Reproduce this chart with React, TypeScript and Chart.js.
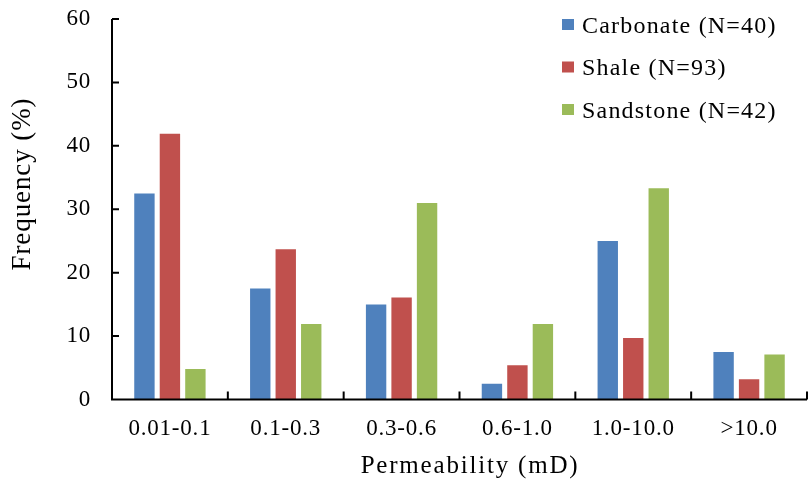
import { useEffect, useRef } from "react";
import { Chart, registerables } from "chart.js";

Chart.register(...registerables);

// Permeability bins and the share of samples (%) falling in each bin
const categories = ["0.01-0.1", "0.1-0.3", "0.3-0.6", "0.6-1.0", "1.0-10.0", ">10.0"];
const carbonate = [32.5, 17.5, 15.0, 2.5, 25.0, 7.5];
const shale = [41.9, 23.7, 16.1, 5.4, 9.7, 3.2];
const sandstone = [4.8, 11.9, 31.0, 11.9, 33.3, 7.1];

const seriesLabels = ["Carbonate (N=40)", "Shale (N=93)", "Sandstone (N=42)"];
const seriesColors = ["#4F81BD", "#C0504D", "#9BBB59"];

const yMin = 0;
const yMax = 60;
const yStep = 10;

const xTitle = "Permeability (mD)";
const yTitle = "Frequency (%)";

const FONT = "'Liberation Serif', 'Times New Roman', serif";

// Axis lines with inward ticks, the legend box and both axis titles
const framePlugin = {
  id: "frame",
  beforeDraw(chart: any) {
    chart.ctx.letterSpacing = "0.8px";
  },
  afterDraw(chart: any) {
    const { ctx, chartArea: a, scales } = chart;
    const xs = scales.x;
    const ys = scales.y;
    ctx.save();
    ctx.letterSpacing = "0px";

    ctx.strokeStyle = "#000";
    ctx.lineWidth = 2;
    ctx.beginPath();
    ctx.moveTo(a.left, a.top);
    ctx.lineTo(a.left, a.bottom);
    ctx.lineTo(a.right, a.bottom);
    ys.ticks.forEach((t: any) => {
      const py = ys.getPixelForValue(t.value);
      ctx.moveTo(a.left, py);
      ctx.lineTo(a.left + 7, py);
    });
    for (let i = 1; i <= categories.length; i++) {
      const px = xs.getPixelForValue(i - 0.5);
      ctx.moveTo(px, a.bottom);
      ctx.lineTo(px, a.bottom - 8);
    }
    ctx.stroke();

    // legend
    ctx.font = `24px ${FONT}`;
    ctx.letterSpacing = "1.2px";
    ctx.textAlign = "left";
    ctx.textBaseline = "alphabetic";
    chart.data.datasets.forEach((ds: any, i: number) => {
      const base = 32.5 + i * 42.5;
      ctx.fillStyle = ds.backgroundColor;
      ctx.fillRect(562, base - 13.5, 12, 11);
      ctx.fillStyle = "#000";
      ctx.fillText(ds.label, 582, base);
    });

    // x title
    ctx.font = `25px ${FONT}`;
    ctx.letterSpacing = "1.8px";
    ctx.textAlign = "center";
    ctx.fillText(xTitle, 470, 473);

    // y title
    ctx.font = `27px ${FONT}`;
    ctx.letterSpacing = "0.9px";
    ctx.translate(30, 184);
    ctx.rotate(-Math.PI / 2);
    ctx.fillText(yTitle, 0, 0);

    ctx.restore();
  },
};

export default function App() {
  const canvasRef = useRef<HTMLCanvasElement | null>(null);

  useEffect(() => {
    const canvas = canvasRef.current;
    if (!canvas) return;
    const values = [carbonate, shale, sandstone];
    const chart = new Chart(canvas, {
      type: "bar",
      data: {
        labels: categories,
        datasets: values.map((v, i) => ({
          label: seriesLabels[i],
          data: v,
          backgroundColor: seriesColors[i],
          borderWidth: 0,
          categoryPercentage: 0.66,
          barPercentage: 0.8,
        })),
      },
      options: {
        responsive: false,
        animation: false,
        devicePixelRatio: 1,
        layout: { padding: { top: 19, right: 1, left: 0, bottom: 0 } },
        plugins: {
          legend: { display: false },
          tooltip: { enabled: false },
        },
        scales: {
          x: {
            grid: { display: false, drawTicks: false },
            border: { display: false },
            ticks: {
              color: "#000",
              font: { family: FONT, size: 23 },
              padding: 16,
              maxRotation: 0,
              autoSkip: false,
            },
            afterFit(scale: any) {
              scale.height = 85.5;
              scale.paddingLeft = 0;
              scale.paddingRight = 0;
            },
          },
          y: {
            min: yMin,
            max: yMax,
            grid: { display: false, drawTicks: false },
            border: { display: false },
            ticks: {
              stepSize: yStep,
              color: "#000",
              font: { family: FONT, size: 23 },
              padding: 21,
            },
            afterFit(scale: any) {
              scale.width = 112;
              scale.paddingTop = 0;
              scale.paddingBottom = 0;
            },
          },
        },
      },
      plugins: [framePlugin],
    });
    return () => chart.destroy();
  }, []);

  return (
    <div style={{ position: "fixed", left: 0, top: 0, width: 808, height: 485, background: "#fff" }}>
      <canvas ref={canvasRef} width={808} height={485} />
    </div>
  );
}
